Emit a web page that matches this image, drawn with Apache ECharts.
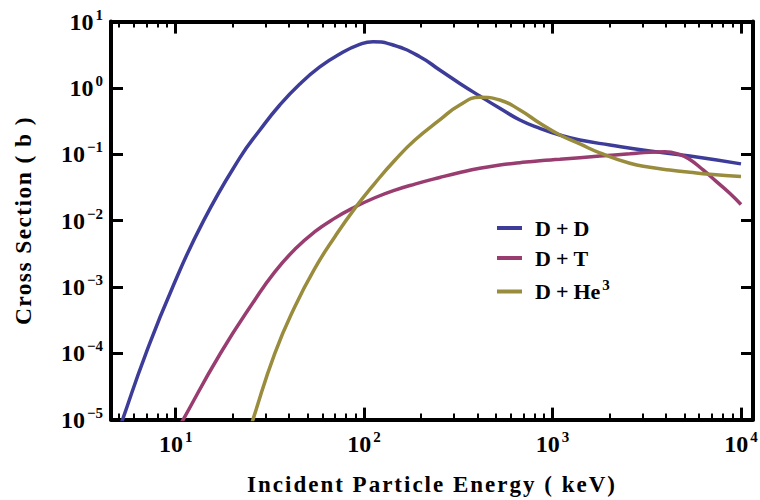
<!DOCTYPE html>
<html>
<head>
<meta charset="utf-8">
<script src="https://cdn.jsdelivr.net/npm/echarts@6/dist/echarts.min.js"></script>
<style>
html,body{margin:0;padding:0;background:#fff;}
#chart{width:760px;height:500px;}
#chart svg text[style*="23px"]{letter-spacing:2px;}
#chart svg text[style*="23.5px"]{letter-spacing:1.4px;}
</style>
</head>
<body>
<div id="chart"></div>
<script>
// ---- Data (energy in keV, cross section in barns) ----
const ddEnergy = [4.82, 5.23, 6.96, 9.65, 14.08, 21.9, 28.0, 35.7, 45.6, 58.2, 74.3, 94.8, 111.6, 142.6, 197.6, 252, 322, 411, 525, 671, 857, 1094, 1396, 2015, 3282, 5353, 10000];
const ddSigma  = [5.0e-6, 1e-5, 1e-4, 1e-3, 1e-2, 0.088, 0.232, 0.553, 1.146, 2.07, 3.25, 4.52, 4.98, 4.44, 2.96, 1.86, 1.17, 0.755, 0.493, 0.329, 0.246, 0.195, 0.164, 0.138, 0.112, 0.094, 0.0716];

const dtEnergy = [10.0, 10.97, 17.3, 26.3, 33.6, 42.9, 54.8, 70.0, 89.3, 114, 146, 186, 252, 322, 411, 525, 671, 857, 1094, 1782, 2571, 3282, 3945, 4731, 5353, 6296, 7413, 8716, 10000];
const dtSigma  = [6.15e-6, 1e-5, 1e-4, 6.35e-4, 1.69e-3, 3.69e-3, 6.81e-3, 0.0109, 0.0160, 0.0221, 0.0288, 0.0355, 0.0447, 0.0531, 0.0616, 0.0689, 0.0746, 0.080, 0.084, 0.094, 0.1016, 0.1075, 0.1089, 0.0991, 0.0834, 0.058, 0.0386, 0.0258, 0.0175];

const dheEnergy = [24.5, 26.0, 33.6, 42.9, 54.8, 70.0, 89.3, 114, 146, 186, 252, 322, 411, 525, 671, 857, 1094, 1396, 1782, 2571, 3282, 4188, 5353, 6834, 10000];
const dheSigma  = [6.2e-6, 1.1e-5, 1.0e-4, 5.04e-4, 1.91e-3, 5.71e-3, 0.0153, 0.0365, 0.0819, 0.164, 0.329, 0.553, 0.723, 0.658, 0.465, 0.293, 0.195, 0.143, 0.105, 0.0731, 0.0636, 0.0579, 0.0535, 0.0499, 0.0462];

const seriesNames = ['D+D', 'D+T', 'D+He3'];
const seriesColors = ['#3D3D99', '#993D71', '#998C3D'];

const xMajorTicks = [10, 100, 1000, 10000];
const xMinorTicks = [5,6,7,8,9, 20,30,40,50,60,70,80,90, 200,300,400,500,600,700,800,900, 2000,3000,4000,5000,6000,7000,8000,9000];
const yMajorTicks = [1e-5, 1e-4, 1e-3, 1e-2, 1e-1, 1, 10];

const xMin = 4.54, xMax = 11580;
const yMin = 1e-5, yMax = 10;

// ---- Chart ----
const FONT = "'Liberation Serif', 'Times New Roman', serif";
const supRich = {
  b: {fontFamily: FONT, fontWeight: 'bold', fontSize: 24, color: '#000'},
  s: {fontFamily: FONT, fontWeight: 'bold', fontSize: 15, color: '#000', padding: [0, 0, 14, 2]}
};
function powLabel(v) {
  const e = Math.round(Math.log10(v));
  const es = e < 0 ? '\u2212' + (-e) : String(e);
  return '{b|10}{s|' + es + '}';
}
function zip(a, b) { return a.map((v, i) => [v, b[i]]); }

const lineW = 4;
function xAxisMajor(pos, showLabel, name) {
  return {
    type: 'log', logBase: 10, position: pos, min: xMin, max: xMax,
    name: name || '', nameLocation: 'middle', nameGap: 53,
    nameTextStyle: {fontFamily: FONT, fontWeight: 'bold', fontSize: 23, color: '#000'},
    axisLine: {show: true, onZero: false, lineStyle: {color: '#000', width: lineW}},
    axisTick: {show: true, inside: true, length: 12, lineStyle: {color: '#000', width: 3}, customValues: xMajorTicks},
    axisLabel: {show: showLabel, margin: 10, customValues: xMajorTicks, formatter: powLabel, rich: supRich},
    splitLine: {show: false}, minorTick: {show: false}
  };
}
function xAxisMinor(pos) {
  return {
    type: 'log', logBase: 10, position: pos, min: xMin, max: xMax,
    axisLine: {show: false},
    axisTick: {show: true, inside: true, length: 6, lineStyle: {color: '#000', width: 2}, customValues: xMinorTicks},
    axisLabel: {show: false},
    splitLine: {show: false}
  };
}
function yAxisDef(pos, showLabel, name) {
  return {
    type: 'log', logBase: 10, position: pos, min: yMin, max: yMax,
    name: name || '', nameLocation: 'middle', nameGap: 76,
    nameTextStyle: {fontFamily: FONT, fontWeight: 'bold', fontSize: 23.5, color: '#000'},
    axisLine: {show: true, onZero: false, lineStyle: {color: '#000', width: lineW}},
    axisTick: {show: true, inside: true, length: 12, lineStyle: {color: '#000', width: 3}, customValues: yMajorTicks},
    axisLabel: {show: showLabel, margin: 8, customValues: yMajorTicks, formatter: powLabel, rich: supRich},
    splitLine: {show: false}
  };
}

const chart = echarts.init(document.getElementById('chart'), null, {renderer: 'svg'});
const energies = [ddEnergy, dtEnergy, dheEnergy];
const sigmas = [ddSigma, dtSigma, dheSigma];

chart.setOption({
  animation: false,
  backgroundColor: '#fff',
  grid: {left: 111, right: 7, top: 21.6, bottom: 80.4, containLabel: false, outerBoundsMode: 'none'},
  legend: {
    show: true, orient: 'vertical', left: 497, top: 217, padding: 0,
    icon: 'rect', itemWidth: 25, itemHeight: 4, itemGap: 8,
    data: seriesNames,
    formatter: function (n) {
      if (n === 'D+He3') return '{t|D}{p|+}{t|He}{s|3}';
      const parts = n.split('+');
      return '{t|' + parts[0] + '}{p|+}{t|' + parts[1] + '}';
    },
    textStyle: {
      fontFamily: FONT, fontWeight: 'bold', fontSize: 22, color: '#000', padding: [0, 0, 0, 8],
      rich: {
        t: {fontFamily: FONT, fontWeight: 'bold', fontSize: 22, color: '#000', lineHeight: 22},
        p: {fontFamily: FONT, fontWeight: 'bold', fontSize: 22, color: '#000', lineHeight: 22, padding: [0, 5, 0, 5]},
        s: {fontFamily: FONT, fontWeight: 'bold', fontSize: 15, color: '#000', padding: [0, 0, 14, 2]}
      }
    }
  },
  xAxis: [xAxisMajor('bottom', true, 'Incident Particle Energy ( keV)'), xAxisMinor('bottom'), xAxisMajor('top', false), xAxisMinor('top')],
  yAxis: [yAxisDef('left', true, 'Cross Section ( b )'), yAxisDef('right', false)],
  series: seriesNames.map((n, i) => ({
    name: n, type: 'line', xAxisIndex: 0, yAxisIndex: 0,
    data: zip(energies[i], sigmas[i]),
    showSymbol: false, symbol: 'none', smooth: 0.5, clip: true,
    lineStyle: {color: seriesColors[i], width: 3.5},
    itemStyle: {color: seriesColors[i]}
  }))
});
</script>
</body>
</html>
